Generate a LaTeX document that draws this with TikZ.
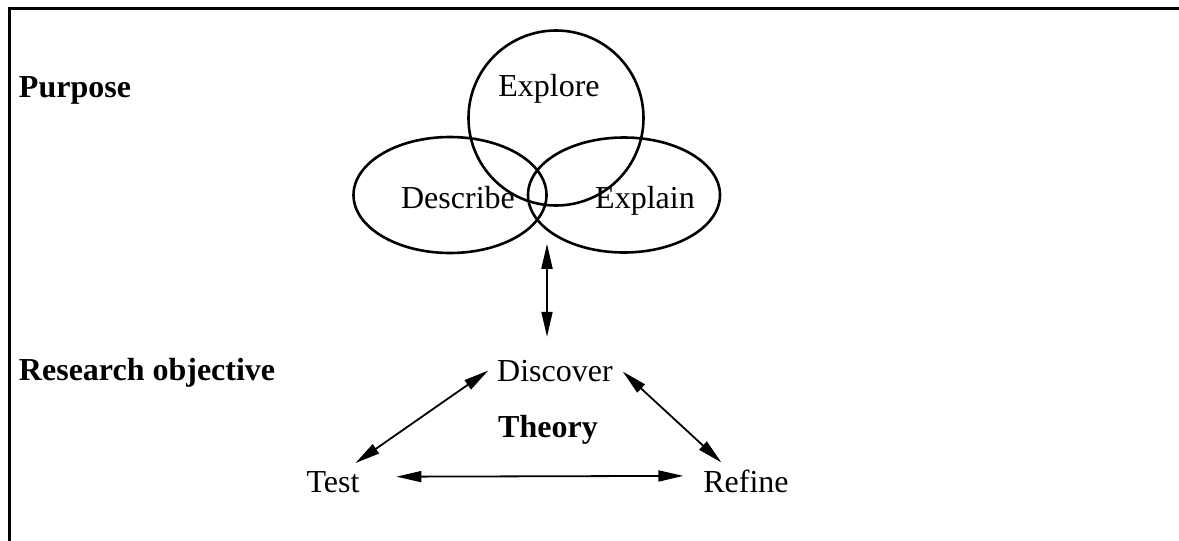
\documentclass[tikz,border=0pt]{standalone}
\usepackage{fontspec}
\setmainfont{Liberation Serif}
\usetikzlibrary{arrows.meta,calc,shapes.geometric}

\tikzset{
  lbl/.style={inner sep=0pt, outer sep=0pt, anchor=base,
    font=\fontsize{32}{38}\selectfont},
  head/.style={lbl, anchor=base west, font=\fontsize{32}{38}\selectfont\bfseries},
  blob/.style={draw, line width=2.6pt, inner sep=0pt},
  link/.style={line width=1.8pt,
    {Triangle[length=25pt,width=11pt]}-{Triangle[length=25pt,width=11pt]}}
}

\begin{document}
\begin{tikzpicture}[x=1pt,y=-1pt]
  \useasboundingbox (0,0) rectangle (1179,541);

  % frame edges
  \draw[line width=3pt] (9,541) -- (9,8) -- (1179,8);

  % row headings
  \node[head] (purpose) at (19,97) {Purpose};
  \node[head] (objective) at (19,380) {Research objective};

  % the three overlapping purposes
  \node[blob, circle, minimum size=175pt] (cExplore) at (556,118) {};
  \node[blob, ellipse, minimum width=193pt, minimum height=116pt] (cDescribe) at (450,195) {};
  \node[blob, ellipse, minimum width=192pt, minimum height=115pt] (cExplain) at (624,195) {};

  \node[lbl] (explore) at (549,96) {Explore};
  \node[lbl] (describe) at (458,208) {Describe};
  \node[lbl] (explain) at (645,208) {Explain};

  % research objectives around the theory
  \node[lbl] (disc) at (555,381) {Discover};
  \node[lbl] (theory) at (548,437) {\bfseries Theory};
  \node[lbl] (test) at (333,492) {Test};
  \node[lbl] (refine) at (746,492) {Refine};

  % links
  \draw[link] ($(disc.north)+(-8,-116)$) -- ($(disc.north)+(-8,-23)$);
  \draw[link] ($(disc.west)+(-9,0)$) -- ($(test.north east)+(-4,-8)$);
  \draw[link] ($(disc.east)+(10,1)$) -- ($(refine.north west)+(18,-7)$);
  \draw[link] ($(test.east)+(37,-5)$) -- ($(refine.west)+(-20,-5)$);
\end{tikzpicture}
\end{document}
